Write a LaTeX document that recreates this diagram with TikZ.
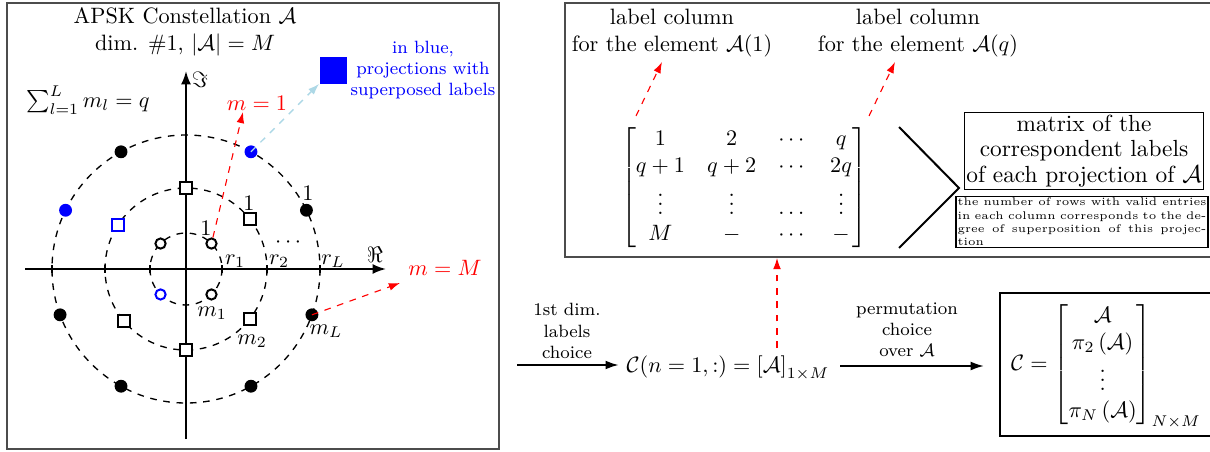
\documentclass[tikz,border=0pt]{standalone}
\usepackage{amsmath,amssymb}
\usetikzlibrary{arrows.meta,calc}
\definecolor{lblue}{RGB}{173,216,230}
\newcommand\tline[1]{\hbox to 112pt{#1}}
\begin{document}
\begin{tikzpicture}[x=0.45pt,y=-0.45pt,
  frame/.style={draw=black!70,line width=0.7pt},
  ring/.style={line width=0.6pt,dash pattern=on 3pt off 3pt},
  axis/.style={line width=0.9pt,-{Latex[length=6pt,width=4.5pt]}},
  omark/.style={circle,draw,line width=0.9pt,fill=white,inner sep=0pt,minimum size=4.6pt},
  smark/.style={rectangle,draw,line width=0.9pt,fill=white,inner sep=0pt,minimum size=5.2pt},
  dmark/.style={circle,inner sep=0pt,minimum size=5.8pt},
  redarr/.style={red,line width=0.5pt,dash pattern=on 3pt off 3pt,-{Latex[length=5pt,width=3.5pt]}},
  bluearr/.style={lblue,line width=0.6pt,dash pattern=on 3pt off 3pt,-{Latex[length=5pt,width=3.5pt]}},
  flow/.style={line width=0.9pt,-{Latex[length=6pt,width=4pt]}},
  ]
\useasboundingbox (0,0) rectangle (1210,451);
\clip (0,0) rectangle (1210,451);
% ---------------- left panel ----------------
\draw[frame] (7,3) rectangle (499,449);
\coordinate (O) at (186,269);
\draw[ring] (O) circle[radius=36];
\draw[ring] (O) circle[radius=81];
\draw[ring] (O) circle[radius=134];
\coordinate (xs) at (25,269); \coordinate (xe) at (386,269);
\coordinate (ys) at (186,439); \coordinate (ye) at (186,71);
\draw[axis] (xs) -- (xe);
\draw[axis] (ys) -- (ye);
\foreach \r in {36,81,134}{
  \draw[line width=0.6pt] ($(O)+(\r,-4)$) -- ($(O)+(\r,4)$);
  \draw[line width=0.6pt] ($(O)+(-\r,-4)$) -- ($(O)+(-\r,4)$);
}
% inner ring markers
\foreach \a/\n/\c in {45/i1/black,135/i2/black,225/i3/blue,315/i4/black}
  \node[omark,draw=\c] (\n) at ($(O)+(-\a:36)$) {};
% middle ring markers
\foreach \a/\n/\c in {38/s1/black,90/s2/black,147/s3/blue,220/s4/black,270/s5/black,322/s6/black}
  \node[smark,draw=\c] (\n) at ($(O)+(-\a:81)$) {};
% outer ring markers
\foreach \a/\n/\c in {26/o1/black,61/o2/blue,119/o3/black,154/o4/blue,200/o5/black,241/o6/black,299/o7/black,340/o8/black}
  \node[dmark,fill=\c] (\n) at ($(O)+(-\a:134)$) {};
% labels
\node[align=center] (title) at (185,32) {APSK Constellation $\mathcal{A}$\\dim. \#1, $|\mathcal{A}|=M$};
\node (sumlab) at (88,100) {$\sum_{l=1}^{L} m_l = q$};
\node (imlab) at (200,80) {$\Im$};
\node (relab) at (375,255) {$\Re$};
\node[inner sep=0pt] (r1lab) at (235,261) {$r_1$};
\node[inner sep=0pt] (r2lab) at (279,261) {$r_2$};
\node[inner sep=0pt] (rLlab) at (333,261) {$r_L$};
\node[inner sep=0pt] (dotslab) at (290,243) {$\cdots$};
\node[inner sep=0pt] (m1lab) at (212,313) {$m_1$};
\node[inner sep=0pt] (m2lab) at (252,341) {$m_2$};
\node[inner sep=0pt] (mLlab) at (326,331) {$m_L$};
\node[inner sep=0pt] (one1) at (206,228) {$1$};
\node[inner sep=0pt] (one2) at (249,203) {$1$};
\node[inner sep=0pt] (one3) at (308,193) {$1$};
\node[red,inner sep=0pt] (mlab1) at (257,103) {$m=1$};
\node[red,inner sep=0pt] (mlabM) at (445,268) {$m=M$};
\node[fill=blue,inner sep=0pt,minimum size=12.15pt] (bsq) at (333,70) {};
\node[text=blue,font=\footnotesize,align=center] (bluetxt) at (423,70) {in blue,\\projections with\\superposed labels};
\coordinate (t1) at (243,112);
\coordinate (t2) at (400,283);
\draw[redarr] (i1) -- (t1);
\draw[redarr] (o8.center) -- (t2);
\draw[bluearr] (o2.center) -- (bsq);
% ---------------- top right panel ----------------
\draw[frame] (565,3) rectangle (1215,257);
\node[align=center] (lab1) at (672,33) {label column\\for the element $\mathcal{A}(1)$};
\node[align=center] (labq) at (918,33) {label column\\for the element $\mathcal{A}(q)$};
\node (Mx) at (744,188) {$\begin{bmatrix} 1 & 2 & \cdots & q \\ q+1 & q+2 & \cdots & 2q \\ \vdots & \vdots & \dots & \vdots \\ M & - & \cdots & - \end{bmatrix}$};
\coordinate (a1s) at (636,116); \coordinate (a1e) at (662,62);
\coordinate (aqs) at (869,116); \coordinate (aqe) at (895,62);
\draw[redarr] (a1s) -- (a1e);
\draw[redarr] (aqs) -- (aqe);
\coordinate (ch1) at (899,127); \coordinate (ch2) at (959,188); \coordinate (ch3) at (899,248);
\draw[line width=0.9pt] (ch1) -- (ch2) -- (ch3);
\node[draw,line width=0.5pt,align=center,inner sep=1pt,minimum width=105pt,minimum height=33pt,
      font=\fontsize{10.5}{11.6}\selectfont] (ML) at (1084,151)
  {matrix of the\\correspondent labels\\of each projection of $\mathcal{A}$};
\node[draw,line width=0.5pt,font=\tiny,inner sep=0.7pt] (SB) at (1082,222)
  {\vbox{\tline{the number of rows with valid entries}\tline{in each column corresponds to the de-}\tline{gree of superposition of this projec-}\hbox{tion}}};
% ---------------- bottom ----------------
\coordinate (s0) at (517,365);
\node (C1) at (728,368) {$\mathcal{C}(n=1,:)=\left[\mathcal{A}\right]_{1\times M}$};
\draw[flow] (s0) -- (s0 -| C1.west);
\node[font=\footnotesize,align=center] (lbl1) at (567,331) {1st dim.\\labels\\choice};
\coordinate (rs) at (777,348); \coordinate (re) at (777,258);
\draw[redarr] (rs) -- (re);
\coordinate (f1) at (840,366); \coordinate (f2) at (984,366);
\draw[flow] (f1) -- (f2);
\node[font=\footnotesize,align=center] (lbl2) at (907,330) {permutation\\choice\\over $\mathcal{A}$};
\draw[line width=0.6pt] (1000,293) rectangle (1215,436);
\node (CB) at (1106,366) {$\mathcal{C}=\begin{bmatrix} \mathcal{A} \\ \pi_2\left(\mathcal{A}\right) \\ \vdots \\ \pi_N\left(\mathcal{A}\right) \end{bmatrix}_{N\times M}$};
\end{tikzpicture}
\end{document}
